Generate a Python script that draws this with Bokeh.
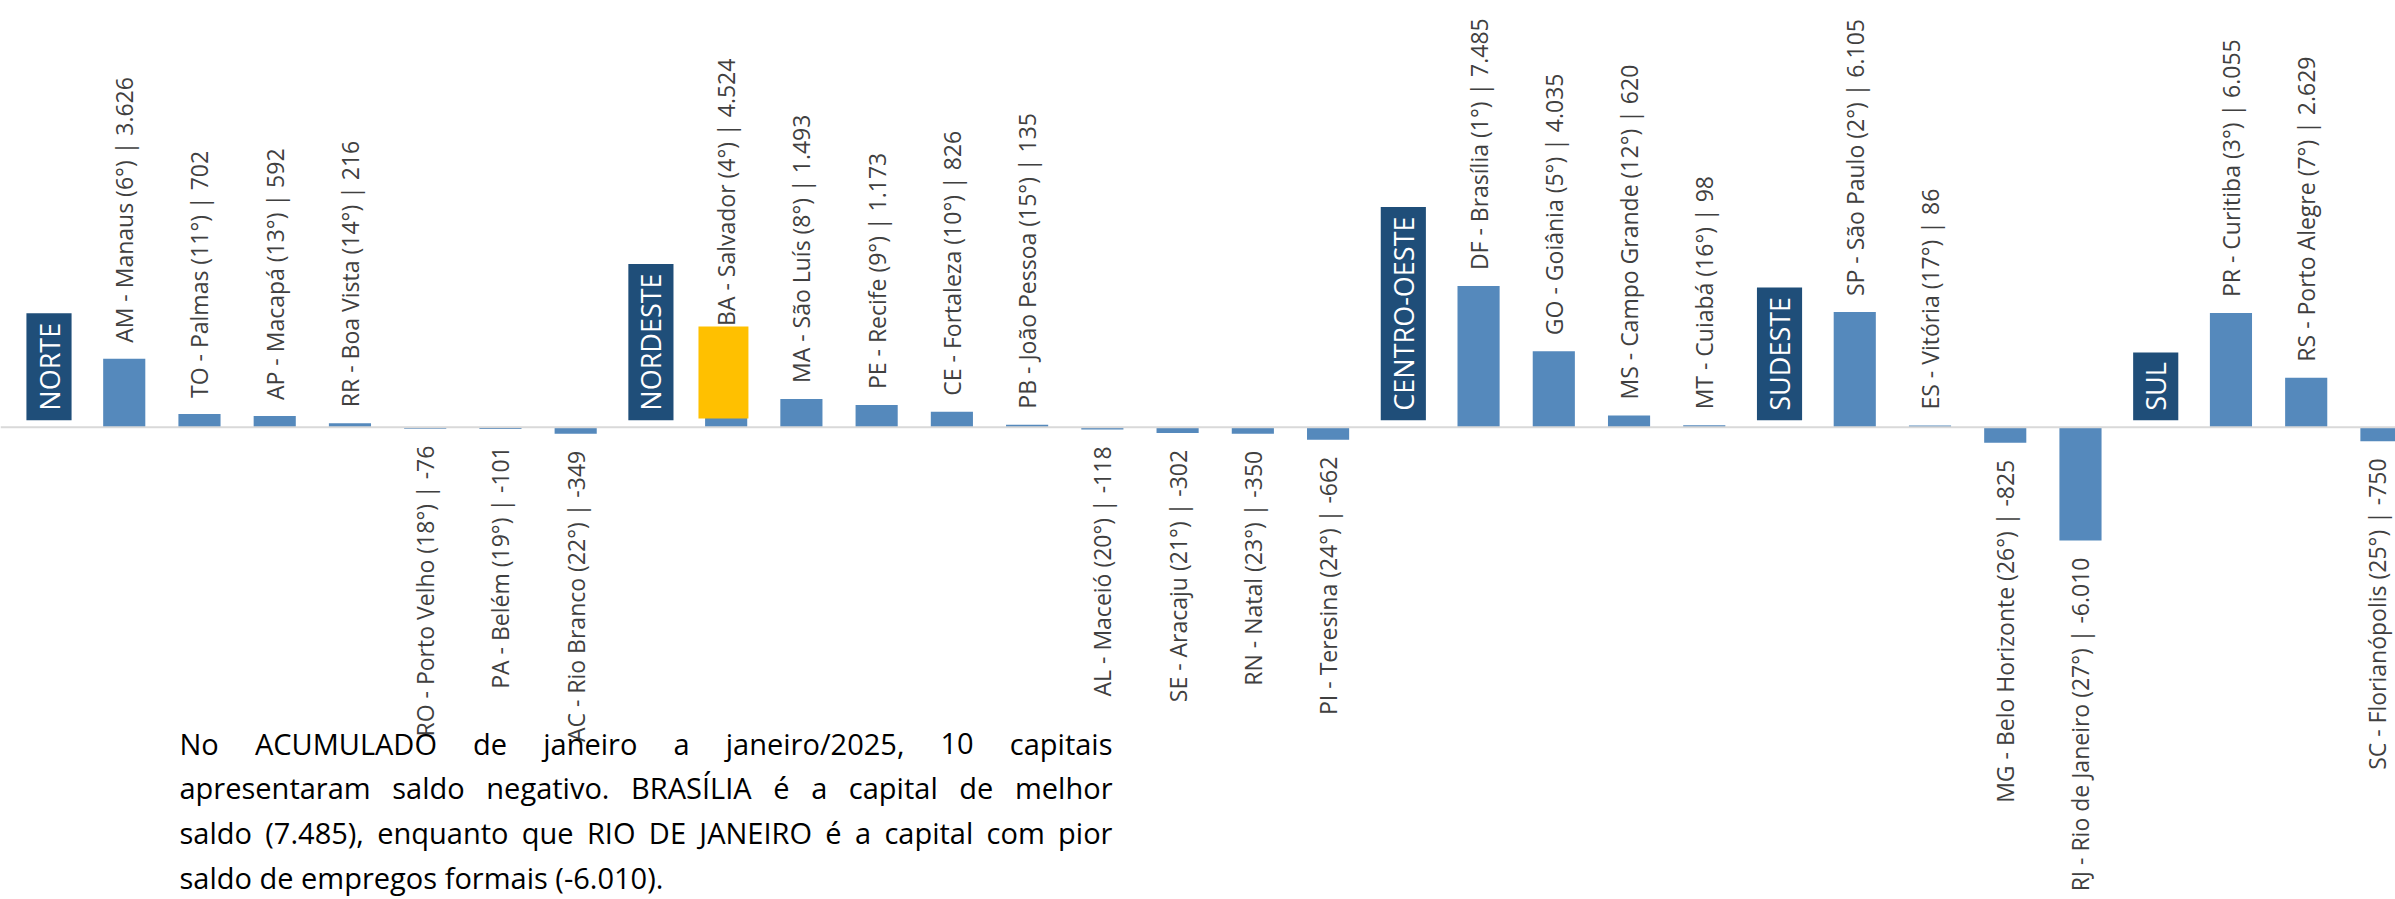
import os, glob, subprocess, math
from bokeh.plotting import figure
from bokeh.models import Range1d, Span
from bokeh.core.properties import value
from bokeh.embed import file_html
from bokeh.resources import INLINE

# ---------------- data ----------------
regions = ["NORTE", "NORDESTE", "CENTRO-OESTE", "SUDESTE", "SUL"]
region_idx = [0, 0, 0, 0, 0, 0, 0,
              1, 1, 1, 1, 1, 1, 1, 1, 1,
              2, 2, 2, 2,
              3, 3, 3, 3,
              4, 4, 4]
uf = ["AM", "TO", "AP", "RR", "RO", "PA", "AC",
      "BA", "MA", "PE", "CE", "PB", "AL", "SE", "RN", "PI",
      "DF", "GO", "MS", "MT",
      "SP", "ES", "MG", "RJ",
      "PR", "RS", "SC"]
capitais = ["Manaus", "Palmas", "Macapá", "Boa Vista", "Porto Velho", "Belém", "Rio Branco",
            "Salvador", "São Luís", "Recife", "Fortaleza", "João Pessoa", "Maceió", "Aracaju", "Natal", "Teresina",
            "Brasília", "Goiânia", "Campo Grande", "Cuiabá",
            "São Paulo", "Vitória", "Belo Horizonte", "Rio de Janeiro",
            "Curitiba", "Porto Alegre", "Florianópolis"]
ranking = [6, 11, 13, 14, 18, 19, 22,
           4, 8, 9, 10, 15, 20, 21, 23, 24,
           1, 5, 12, 16,
           2, 17, 26, 27,
           3, 7, 25]
saldo = [3626, 702, 592, 216, -76, -101, -349,
         4524, 1493, 1173, 826, 135, -118, -302, -350, -662,
         7485, 4035, 620, 98,
         6105, 86, -825, -6010,
         6055, 2629, -750]
destaque = "BA"
paragrafo = [
    "No ACUMULADO de janeiro a janeiro/2025, 10 capitais",
    "apresentaram saldo negativo. BRASÍLIA é a capital de melhor",
    "saldo (7.485), enquanto que RIO DE JANEIRO é a capital com pior",
    "saldo de empregos formais (-6.010).",
]

# ---------------- geometry ----------------
W_FIG, H_FIG = 2395, 899
PAGE = 0
PX_SLOT = 75.24
SLOT0_X = 48.5
BASE_Y = 426.7
PX_UNIT = 0.01885

x0 = -(SLOT0_X - PAGE) / PX_SLOT
x1 = x0 + W_FIG / PX_SLOT
y1 = (BASE_Y - PAGE) / PX_UNIT
y0 = y1 - H_FIG / PX_UNIT

def X(px):
    return x0 + (px - PAGE) / PX_SLOT

def Y(py):
    return y1 - (py - PAGE) / PX_UNIT

def H(px):
    return px / PX_UNIT

def page_x(x):
    return PAGE + (x - x0) * PX_SLOT

# ---------------- font measuring ----------------
def find_font():
    try:
        r = subprocess.run(["fc-match", "-f", "%{file}", "Open Sans"], capture_output=True, text=True, timeout=5)
        pth = r.stdout.strip()
        if pth and os.path.exists(pth) and "opensans" in os.path.basename(pth).lower().replace("-", "").replace("_", ""):
            return pth
    except Exception:
        pass
    for pat in ["/usr/share/fonts/**/OpenSans*Regular*.ttf", "/usr/share/fonts/**/OpenSans*.ttf",
                "/usr/local/share/fonts/**/OpenSans*.ttf", os.path.expanduser("~/.fonts/**/OpenSans*.ttf")]:
        hits = sorted(glob.glob(pat, recursive=True))
        if hits:
            return hits[0]
    return None

FONT_PATH = find_font()
_cache = {}

def measure(s, size):
    if FONT_PATH:
        try:
            from PIL import ImageFont
            if size not in _cache:
                _cache[size] = ImageFont.truetype(FONT_PATH, size)
            return _cache[size].getlength(s)
        except Exception:
            pass
    return len(s) * 0.55 * size

# ---------------- slots ----------------
reg_slot, cap_slot = [], []
slot = 0
for r in range(len(regions)):
    reg_slot.append(slot)
    slot += 1
    for i in range(len(uf)):
        if region_idx[i] == r:
            cap_slot.append(slot)
            slot += 1

def fmt(v):
    return f"{v:,}".replace(",", ".")

labels = [f"{u} - {c} ({k}°) | {fmt(v)}" for u, c, k, v in zip(uf, capitais, ranking, saldo)]

p = figure(width=W_FIG, height=H_FIG, output_backend="svg", toolbar_location=None,
           x_axis_location=None, y_axis_location=None,
           x_range=Range1d(x0, x1), y_range=Range1d(y0, y1),
           min_border=0, outline_line_color=None, background_fill_color="white",
           border_fill_color="white")
p.xgrid.visible = False
p.ygrid.visible = False

BAR_COLOR = "#5589BC"
p.vbar(x=cap_slot, top=saldo, bottom=0, width=0.56, fill_color=BAR_COLOR, line_color=None)

# highlight box on destaque
bi = uf.index(destaque)
bs = cap_slot[bi]
p.quad(left=[bs - 0.368], right=[bs + 0.296], bottom=[H(8.7)], top=[H(100.7)],
       fill_color="#FFC000", line_color=None)

p.add_layout(Span(location=0, dimension="width", line_color="#D9D9D9", line_width=2))

# region boxes
RFS = 27
reg_h = [measure(r, RFS) + 19 for r in regions]
p.quad(left=[s - 0.3 for s in reg_slot], right=[s + 0.3 for s in reg_slot],
       bottom=[H(7)] * len(regions), top=[H(7 + h) for h in reg_h],
       fill_color="#1F4E79", line_color=None)
p.text(x=reg_slot, y=[H(7 + h / 2) for h in reg_h], text=regions, angle=math.pi / 2,
       text_align="center", text_baseline="middle", text_color="white",
       text_font=value("Open Sans"), text_font_size=f"{RFS}px")

# capital labels (kept inside the right edge)
LFS = 23
xoff = [min(0.0, (W_FIG - 19) - page_x(cap_slot[i])) for i in range(len(uf))]
pos = [i for i, v in enumerate(saldo) if v >= 0]
neg = [i for i, v in enumerate(saldo) if v < 0]
p.text(x=[cap_slot[i] for i in pos], y=[saldo[i] for i in pos], text=[labels[i] for i in pos],
       angle=math.pi / 2, x_offset=[xoff[i] for i in pos], y_offset=-16,
       text_align="left", text_baseline="middle",
       text_color="#404040", text_font=value("Open Sans"), text_font_size=f"{LFS}px")
p.text(x=[cap_slot[i] for i in neg], y=[saldo[i] for i in neg], text=[labels[i] for i in neg],
       angle=math.pi / 2, x_offset=[xoff[i] for i in neg], y_offset=17,
       text_align="right", text_baseline="middle",
       text_color="#404040", text_font=value("Open Sans"), text_font_size=f"{LFS}px")

# paragraph (justified)
PFS = 29
LEFT, RIGHT = 179, 1112
BASELINES = [742.7, 787.4, 832.1, 876.8]
wx, wy, wt = [], [], []
for li, line in enumerate(paragrafo):
    words = line.split(" ")
    widths = [measure(w, PFS) for w in words]
    if li < len(paragrafo) - 1 and len(words) > 1:
        gap = (RIGHT - LEFT - sum(widths)) / (len(words) - 1)
    else:
        gap = measure(" ", PFS)
    cx = LEFT
    for w, ww in zip(words, widths):
        wx.append(X(cx))
        wy.append(Y(BASELINES[li]))
        wt.append(w)
        cx += ww + gap
p.text(x=wx, y=wy, text=wt, text_align="left", text_baseline="alphabetic",
       text_color="black", text_font=value("Open Sans"), text_font_size=f"{PFS}px")

open("out.html", "w").write(file_html(p, INLINE))
